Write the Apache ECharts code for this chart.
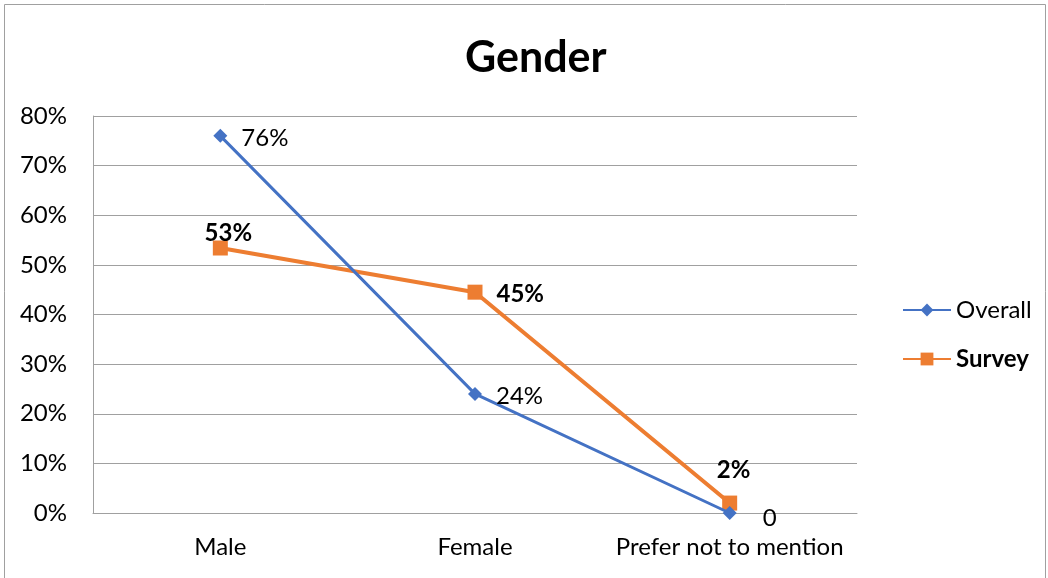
<!DOCTYPE html>
<html>
<head>
<meta charset="utf-8">
<script src="https://cdn.jsdelivr.net/npm/echarts@6/dist/echarts.min.js"></script>
<style>html,body{margin:0;padding:0;background:#fff}#c{width:1048px;height:578px}</style>
</head>
<body>
<div id="c"></div>
<script>
const categories = ['Male', 'Female', 'Prefer not to mention'];
const overall = [0.76, 0.24, 0];
const overallLabels = ['76%', '24%', '0'];
const survey = [0.534, 0.445, 0.02];
const surveyLabels = ['53%', '45%', '2%'];
const yTicks = [0, 0.1, 0.2, 0.3, 0.4, 0.5, 0.6, 0.7, 0.8];

const FONT = 'Lato, "Open Sans", sans-serif';
const FS = 24;
const chart = echarts.init(document.getElementById('c'), null, {renderer: 'canvas'});

const overallData = overall.map((v, i) => ({
  value: v,
  label: {
    formatter: overallLabels[i],
    position: 'right',
    distance: i === 2 ? 26 : 14,
    offset: i === 2 ? [0, 5] : [0, 2]
  }
}));
const surveyPos = [
  {position: 'top', distance: 4, offset: [8, 9]},
  {position: 'right', distance: 14, offset: [0, 2]},
  {position: 'top', distance: 13, offset: [4, 0]}
];
const surveyData = survey.map((v, i) => ({
  value: v,
  label: Object.assign({formatter: surveyLabels[i]}, surveyPos[i])
}));

chart.setOption({
  animation: false,
  textStyle: {fontFamily: FONT},
  title: {
    text: 'Gender',
    left: 460,
    top: 32,
    textStyle: {fontSize: 43, fontWeight: 'bold', color: '#000', fontFamily: FONT}
  },
  graphic: [{
    type: 'rect',
    shape: {x: 4.5, y: 4.5, width: 1041, height: 590},
    style: {fill: 'none', stroke: '#a0a0a0', lineWidth: 1},
    silent: true
  }],
  legend: {
    orient: 'vertical',
    left: 897,
    top: 293,
    itemWidth: 48,
    itemHeight: 16,
    itemGap: 25,
    textStyle: {fontSize: FS, color: '#000', fontFamily: FONT},
    data: [
      {name: 'Overall'},
      {name: 'Survey', textStyle: {fontWeight: 'bold'}}
    ]
  },
  grid: {left: 93, right: 191, top: 116, bottom: 65, containLabel: false},
  xAxis: {
    type: 'category',
    data: categories,
    boundaryGap: true,
    axisLine: {show: true, lineStyle: {color: '#a0a0a0', width: 1}},
    axisTick: {show: false},
    axisLabel: {fontSize: FS, color: '#000', margin: 22, fontFamily: FONT, interval: 0}
  },
  yAxis: {
    type: 'value',
    min: 0,
    max: 0.8,
    interval: 0.1,
    axisLine: {show: true, lineStyle: {color: '#a0a0a0', width: 1}},
    axisTick: {show: false},
    splitLine: {show: true, lineStyle: {color: '#a0a0a0', width: 1}},
    axisLabel: {
      fontSize: FS, color: '#000', margin: 26, fontFamily: FONT,
      formatter: v => Math.round(v * 100) + '%'
    }
  },
  series: [
    {
      name: 'Overall',
      type: 'line',
      data: overallData,
      symbol: 'diamond',
      symbolSize: 14,
      itemStyle: {color: '#4472C4'},
      lineStyle: {color: '#4472C4', width: 3},
      label: {show: true, fontSize: FS, color: '#000', fontFamily: FONT},
      z: 3
    },
    {
      name: 'Survey',
      type: 'line',
      data: surveyData,
      symbol: 'rect',
      symbolSize: 15,
      itemStyle: {color: '#ED7D31'},
      lineStyle: {color: '#ED7D31', width: 4},
      label: {show: true, fontSize: FS, fontWeight: 'bold', color: '#000', fontFamily: FONT},
      z: 2
    }
  ]
});
</script>
</body>
</html>
